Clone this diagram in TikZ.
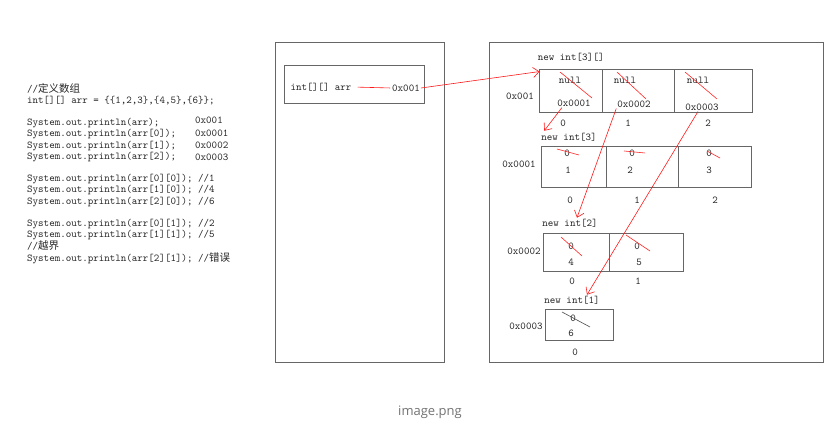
\documentclass[tikz,border=0pt]{standalone}
\usepackage{fontspec}
\newfontfamily\cjk{Noto Sans CJK SC}
\newfontfamily\capfont{Open Sans}
\usetikzlibrary{positioning, arrows.meta}

\begin{document}
\begin{tikzpicture}[
    x=1pt, y=-1pt,
    frame/.style={draw=black!60, line width=0.9pt, inner sep=0pt},
    cell/.style={draw=black!60, line width=0.9pt, inner sep=0pt},
    code/.style={font=\ttfamily\fontsize{10.5}{11.2}\selectfont, text=black!85, align=left, inner sep=0pt},
    lbl/.style={font=\ttfamily\fontsize{10.5}{12}\selectfont, text=black!85, inner sep=1pt},
    ref/.style={draw=red!90, line width=0.6pt},
    refarrow/.style={ref, -{Straight Barb[length=6pt, width=10pt]}},
    strike/.style={draw=red!85, line width=0.6pt},
]

\fill[white] (0,0) rectangle (838,427);

% Code
\node[code, anchor=north west] (src) at (27,83) {%
    //{\cjk 定义数组}\\
    int[][] arr = \{\{1,2,3\},\{4,5\},\{6\}\};\\[11.2pt]
    System.out.println(arr);\\
    System.out.println(arr[0]);\\
    System.out.println(arr[1]);\\
    System.out.println(arr[2]);\\[11.2pt]
    System.out.println(arr[0][0]); //1\\
    System.out.println(arr[1][0]); //4\\
    System.out.println(arr[2][0]); //6\\[11.2pt]
    System.out.println(arr[0][1]); //2\\
    System.out.println(arr[1][1]); //5\\
    //{\cjk 越界}\\
    System.out.println(arr[2][1]); //{\cjk 错误}};
\node[code, font=\ttfamily\fontsize{10.5}{12.3}\selectfont, anchor=north west] (out) at (195,117) {%
    0x001\\0x0001\\0x0002\\0x0003};

% Stack
\node[frame, minimum width=169, minimum height=320] (stack) at (359.5,202) {};
\node[frame, minimum width=140, minimum height=38] (arrbox) at (354,84) {};
\node[lbl] (var) at (321,87) {int[][] arr};
\node[lbl] (addr) at (406,88) {0x001};

% Heap
\node[frame, minimum width=334, minimum height=320] (heap) at (656,202) {};

% new int[3][]
\node[lbl] (h1) at (571,57) {new int[3][]};
\node[cell, minimum width=63, minimum height=43] (c10) at (570.5,90.5) {};
\node[cell, minimum width=72, minimum height=43] (c11) at (638,90.5) {};
\node[cell, minimum width=78, minimum height=43] (c12) at (713,90.5) {};
\node[lbl] (a1) at (520,96) {0x001};
\node[lbl] (n0) at (570,80) {null};
\node[lbl] (n1) at (625,80) {null};
\node[lbl] (n2) at (698,80) {null};
\node[lbl] (p0) at (574,103) {0x0001};
\node[lbl] (p1) at (634,104) {0x0002};
\node[lbl] (p2) at (702,107) {0x0003};
\node[lbl] (i10) at (563,123) {0};
\node[lbl] (i11) at (628,123) {1};
\node[lbl] (i12) at (708,123) {2};

% new int[3]
\node[lbl] (h2) at (569,137) {new int[3]};
\node[cell, minimum width=65, minimum height=41] (c20) at (573.5,166.5) {};
\node[cell, minimum width=72, minimum height=41] (c21) at (642,166.5) {};
\node[cell, minimum width=73, minimum height=41] (c22) at (714.5,166.5) {};
\node[lbl] (a2) at (519,164) {0x0001};
\node[lbl] (z20) at (567,153) {0};
\node[lbl] (z21) at (632,153) {0};
\node[lbl] (z22) at (709,153) {0};
\node[lbl] (v20) at (568,170) {1};
\node[lbl] (v21) at (630,170) {2};
\node[lbl] (v22) at (709,170) {3};
\node[lbl] (i20) at (570,200) {0};
\node[lbl] (i21) at (637,200) {1};
\node[lbl] (i22) at (715,200) {2};

% new int[2]
\node[lbl] (h3) at (570,223) {new int[2]};
\node[cell, minimum width=66, minimum height=38] (c30) at (576,252) {};
\node[cell, minimum width=74, minimum height=38] (c31) at (646,252) {};
\node[lbl] (a3) at (524,251) {0x0002};
\node[lbl] (z30) at (571,246) {0};
\node[lbl] (z31) at (637,246) {0};
\node[lbl] (v30) at (571,262) {4};
\node[lbl] (v31) at (639,262) {5};
\node[lbl] (i30) at (572,281) {0};
\node[lbl] (i31) at (638,281) {1};

% new int[1]
\node[lbl] (h4) at (572,300) {new int[1]};
\node[cell, minimum width=68, minimum height=31] (c40) at (579,324.5) {};
\node[lbl] (a4) at (526,326) {0x0003};
\node[lbl] (z40) at (573,318) {0};
\node[lbl] (v40) at (571,333) {6};
\node[lbl] (i40) at (575,352) {0};

% Referencje
\draw[ref, shorten <=5pt, shorten >=1pt] (var.east) -- (addr.west);
\draw[refarrow] (addr.east) -- ([shift={(1,3)}]c10.north west);
\draw[refarrow] ([xshift=-12pt]p0.south) -- ([shift={(4,-1)}]h2.north west);
\draw[refarrow] (p1.south west) -- ([xshift=7pt]h3.north);
\draw[refarrow] ([xshift=-4pt]p2.south) -- ([xshift=15pt]h4.north);

% Skreslenia
\draw[strike] (560,72) -- (592,98);
\draw[strike] (617,72) -- (646,99);
\draw[strike] (685,72) -- (717,99);
\draw[strike] (557,149) -- (579,155);
\draw[strike] (624,151) -- (645,153);
\draw[strike] (707,151) -- (720,158);
\draw[strike] (561,237) -- (582,256);
\draw[strike] (626,235) -- (650,251);
\draw[draw=black!70, line width=0.6pt] (562,312) -- (590,327);

\node[font=\capfont\fontsize{13}{15}\selectfont, text=black!55] (cap) at (430,412) {image.png};

\end{tikzpicture}
\end{document}
